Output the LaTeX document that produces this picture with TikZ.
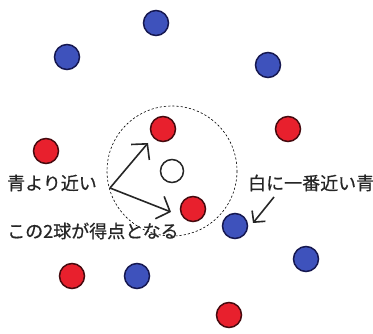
\documentclass[tikz,border=0pt]{standalone}
\usepackage{fontspec}
\newfontfamily\jpfont[FakeBold=0.6]{Noto Sans CJK JP}
\usetikzlibrary{arrows.meta}
\definecolor{ballred}{RGB}{232,32,45}
\definecolor{ballblue}{RGB}{62,82,188}
\definecolor{rimred}{RGB}{70,10,15}
\definecolor{rimblue}{RGB}{22,24,80}
\begin{document}
\begin{tikzpicture}[x=1pt, y=-1pt,
  ball/.style={circle, draw, line width=1.5pt, minimum size=25pt, inner sep=0pt},
  redball/.style={ball, fill=ballred, draw=rimred},
  blueball/.style={ball, fill=ballblue, draw=rimblue},
  whiteball/.style={ball, fill=white, draw=black!85, minimum size=23pt},
  lbl/.style={anchor=west, inner sep=0pt, font=\jpfont\fontsize{18}{21}\selectfont, text=black!85},
  arr/.style={-{Straight Barb[length=11pt, width=24pt, line width=1.6pt]}, line width=1.6pt, black!85}]
  \useasboundingbox (0,0) rectangle (373,334);
  % blue balls
  \node[blueball] (b1) at (156,23) {};
  \node[blueball] (b2) at (67,57) {};
  \node[blueball] (b3) at (268,65) {};
  \node[blueball] (b4) at (235,226) {};
  \node[blueball] (b5) at (306,259) {};
  \node[blueball] (b6) at (137,276) {};
  % red balls
  \node[redball] (r1) at (163,129) {};
  \node[redball] (r2) at (288,129) {};
  \node[redball] (r3) at (46,151) {};
  \node[redball] (r4) at (193,209) {};
  \node[redball] (r5) at (72,276) {};
  \node[redball] (r6) at (229,315) {};
  % white ball and its range
  \node[whiteball] (jack) at (172,171) {};
  \draw[line width=0.6pt, dash pattern=on 2.2pt off 2pt] (jack.center) circle (65);
  % labels
  \node[lbl] (near) at (7,183) {青より近い};
  \node[lbl] (score) at (7,231) {この2球が得点となる};
  \node[lbl] (nearest) at (248,183) {白に一番近い青};
  % arrows
  \coordinate (fork) at (110,188);
  \coordinate (tipA) at (148,143);
  \coordinate (tipB) at (171,212);
  \draw[arr] (fork) -- (tipA);
  \draw[arr] (fork) -- (tipB);
  \coordinate (fromN) at (274,197);
  \coordinate (tipN) at (253,223);
  \draw[arr, -{Straight Barb[length=8pt, width=17pt, line width=1.6pt]}] (fromN) -- (tipN);
\end{tikzpicture}
\end{document}
